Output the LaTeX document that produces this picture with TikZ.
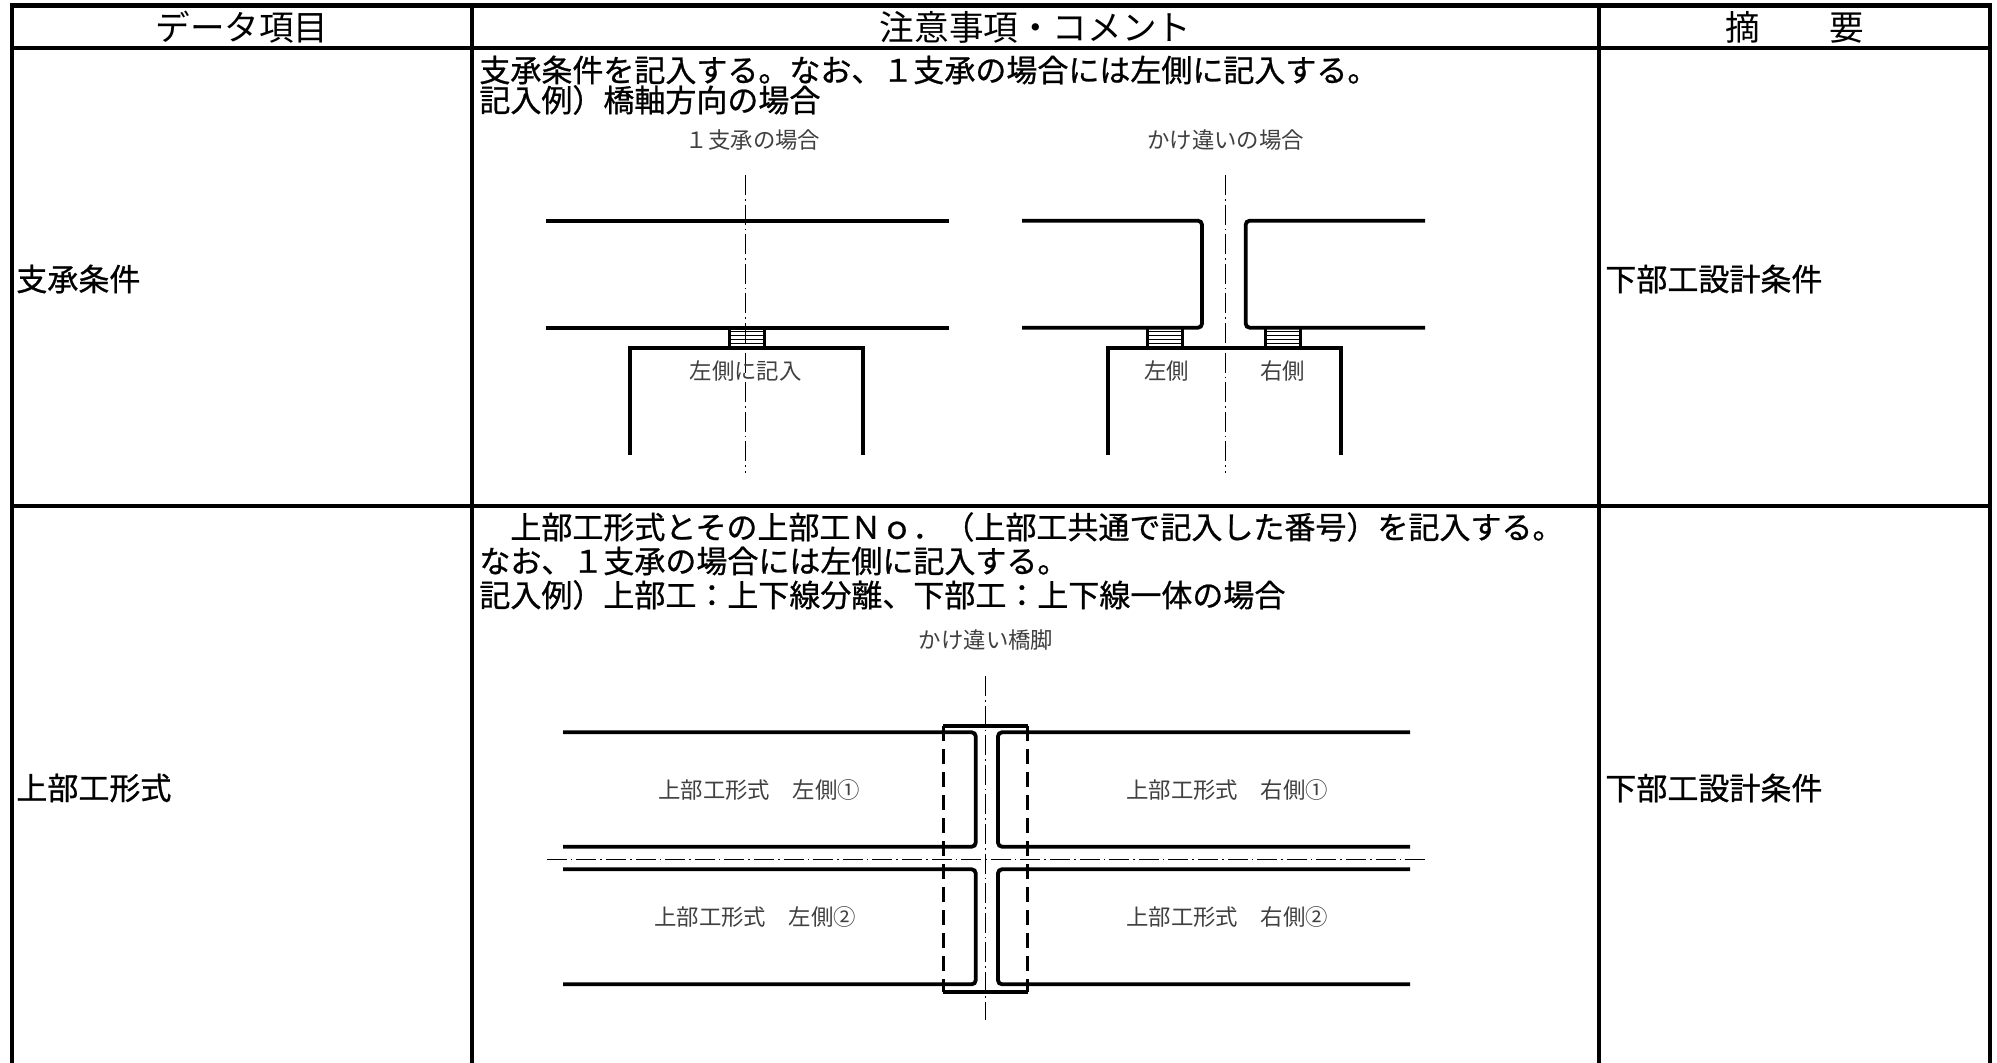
\documentclass[tikz,border=0pt]{standalone}
\usepackage{fontspec}
\setmainfont{Noto Sans CJK JP}
\newfontfamily\bodyfont{Noto Sans CJK JP}[FakeBold=0.8]
\begin{document}
\begin{tikzpicture}[x=0.5pt,y=-0.5pt,
  border/.style={line width=2.1pt},
  beam/.style={line width=1.9pt},
  cline/.style={line width=0.7pt, dash pattern=on 10pt off 2pt on 0.8pt off 2pt},
  pierdash/.style={line width=1.7pt, dash pattern=on 7.5pt off 4pt},
  hatch/.style={line width=0.5pt},
  head/.style={font=\fontsize{17.3pt}{20pt}\selectfont, inner sep=0pt},
  body/.style={font=\bodyfont\fontsize{15.5pt}{18pt}\selectfont, inner sep=0pt, anchor=west},
  lbl/.style={font=\fontsize{11.2pt}{13pt}\selectfont, inner sep=0pt, text=black!75},
]
\useasboundingbox (0,0) rectangle (1997,1063);
\fill[white] (0,0) rectangle (1997,1063);

% table grid
\draw[border] (12,1063) -- (12,5.5) -- (1990,5.5) -- (1990,1063);
\draw[border] (12,48) -- (1990,48);
\draw[border] (12,506) -- (1990,506);
\draw[border] (472,5.5) -- (472,1063);
\draw[border] (1599,5.5) -- (1599,1063);

% header
\node[head] (h1) at (242,27) {データ項目};
\node[head] (h2) at (1035.5,27) {注意事項・コメント};
\node[head] (h3) at (1794.5,27) {摘　　要};

% row 1 texts
\node[body] (r1a) at (479,70) {支承条件を記入する。なお、１支承の場合には左側に記入する。};
\node[body] (r1b) at (479,100) {記入例）橋軸方向の場合};
\node[body] (r1l) at (16,279) {支承条件};
\node[body] (r1r) at (1605,279) {下部工設計条件};

% row 2 texts
\node[body] (r2a) at (479,527) {　上部工形式とその上部工Ｎｏ．（上部工共通で記入した番号）を記入する。};
\node[body] (r2b) at (479,561) {なお、１支承の場合には左側に記入する。};
\node[body] (r2c) at (479,595) {記入例）上部工：上下線分離、下部工：上下線一体の場合};
\node[body] (r2l) at (16,788) {上部工形式};
\node[body] (r2r) at (1605,788) {下部工設計条件};

% ---- diagram A : single bearing
\draw[beam] (546,220.7) -- (949,220.7);
\draw[beam] (546,327.7) -- (949,327.7);
\draw[beam] (630,455) -- (630,348) -- (862.7,348) -- (862.7,455);
\draw[cline] (745.7,175) -- (745.7,473);
\node[lbl] (ta) at (753,140) {１支承の場合};
\node[lbl] (tb) at (745.7,370.7) {左側に記入};

% ---- diagram B : staggered
\draw[beam, rounded corners=2pt] (1022,220.7) -- (1202,220.7) -- (1202,327.7) -- (1022,327.7);
\draw[beam, rounded corners=2pt] (1425,220.7) -- (1245.7,220.7) -- (1245.7,327.7) -- (1425,327.7);
\draw[beam] (1107.7,455) -- (1107.7,348) -- (1340.7,348) -- (1340.7,455);
\draw[cline] (1225.7,175) -- (1225.7,473);
\node[lbl] (tc) at (1225.7,140) {かけ違いの場合};
\node[lbl] (td) at (1166.7,370.7) {左側};
\node[lbl] (te) at (1282.7,370.7) {右側};

% bearings
\foreach \bx in {729,1147.7,1265} {
  \draw[line width=1.5pt] (\bx,327.7) rectangle ++(35,20.3);
  \foreach \hy in {332,336,340,344} \draw[hatch] (\bx,\hy) -- ++(35,0);
}

% ---- diagram C : superstructure plan
\draw[beam, rounded corners=2pt] (563,732.3) -- (975.7,732.3) -- (975.7,846.7) -- (563,846.7);
\draw[beam, rounded corners=2pt] (563,869.3) -- (975.7,869.3) -- (975.7,984.3) -- (563,984.3);
\draw[beam, rounded corners=2pt] (1410,732.3) -- (998,732.3) -- (998,846.7) -- (1410,846.7);
\draw[beam, rounded corners=2pt] (1410,869.3) -- (998,869.3) -- (998,984.3) -- (1410,984.3);
\draw[beam] (943.3,726) -- (1027.7,726);
\draw[beam] (943.3,991.7) -- (1027.7,991.7);
\draw[pierdash] (943.3,726) -- (943.3,991.7);
\draw[pierdash] (1027.7,726) -- (1027.7,991.7);
\draw[cline] (546.7,859.3) -- (1425,859.3);
\draw[cline] (985.7,676) -- (985.7,1020);
\node[lbl] (tf) at (986,640) {かけ違い橋脚};
\node[lbl] (tg) at (759,790) {上部工形式　左側①};
\node[lbl] (th) at (755,916.7) {上部工形式　左側②};
\node[lbl] (ti) at (1227,790) {上部工形式　右側①};
\node[lbl] (tj) at (1227,916.7) {上部工形式　右側②};
\end{tikzpicture}
\end{document}
